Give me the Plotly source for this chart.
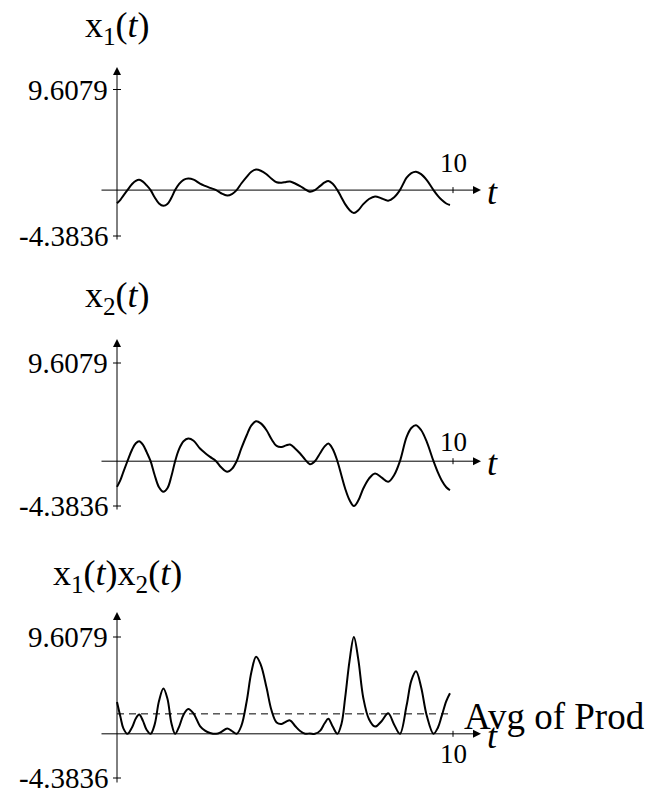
import plotly.graph_objects as go

# ---------------- data ----------------
t = [0.00, 0.10, 0.19, 0.31, 0.45, 0.56, 0.66, 0.77, 0.88, 1.00,
     1.12, 1.25, 1.38, 1.50, 1.62, 1.73, 1.85, 1.98, 2.12, 2.28,
     2.47, 2.62, 2.77, 2.95, 3.10, 3.28, 3.42, 3.56, 3.70, 3.86,
     4.00, 4.14, 4.28, 4.45, 4.60, 4.75, 4.90, 5.03, 5.15, 5.30,
     5.45, 5.60, 5.74, 5.89, 6.05, 6.18, 6.29, 6.42, 6.56, 6.68,
     6.79, 6.92, 7.05, 7.18, 7.33, 7.50, 7.68, 7.88, 8.07, 8.25,
     8.42, 8.62, 8.76, 8.90, 9.05, 9.22, 9.42, 9.55, 9.66, 9.80,
     9.91]

x1 = [-1.26, -0.93, -0.52, 0.00, 0.58, 0.88, 0.98, 0.81, 0.46, 0.00,
      -0.68, -1.28, -1.50, -1.33, -0.73, 0.00, 0.60, 0.98, 1.11, 1.00,
      0.62, 0.40, 0.21, 0.00, -0.30, -0.52, -0.38, 0.00, 0.63, 1.27,
      1.75, 1.96, 1.85, 1.52, 1.08, 0.75, 0.70, 0.78, 0.82, 0.63,
      0.38, 0.08, -0.15, 0.00, 0.40, 0.73, 0.87, 0.60, 0.00, -0.70,
      -1.34, -1.90, -2.1918, -1.93, -1.34, -0.85, -0.60, -0.80, -1.01, -0.68,
      0.00, 1.19, 1.63, 1.76, 1.53, 0.95, 0.00, -0.55, -0.93, -1.28,
      -1.42]

x2 = [-2.51, -1.85, -1.04, 0.00, 1.15, 1.75, 1.96, 1.62, 0.91, 0.00,
      -1.35, -2.55, -3.00, -2.65, -1.45, 0.00, 1.20, 1.95, 2.22, 2.00,
      1.24, 0.80, 0.42, 0.00, -0.60, -1.04, -0.75, 0.00, 1.25, 2.54,
      3.50, 3.91, 3.70, 3.03, 2.15, 1.50, 1.40, 1.55, 1.63, 1.25,
      0.75, 0.15, -0.29, 0.00, 0.80, 1.45, 1.73, 1.20, 0.00, -1.40,
      -2.67, -3.80, -4.3836, -3.85, -2.67, -1.70, -1.20, -1.60, -2.02, -1.35,
      0.00, 2.38, 3.25, 3.52, 3.05, 1.89, 0.00, -1.10, -1.86, -2.55,
      -2.84]

prod = [3.15, 1.71, 0.54, 0.00, 0.66, 1.53, 1.92, 1.31, 0.41, 0.00,
        0.91, 3.25, 4.50, 3.51, 1.05, 0.00, 0.72, 1.90, 2.46, 2.00,
        0.77, 0.32, 0.09, 0.00, 0.18, 0.54, 0.28, 0.00, 0.78, 3.23,
        6.13, 7.64, 6.85, 4.59, 2.31, 1.13, 0.98, 1.20, 1.33, 0.78,
        0.28, 0.01, 0.04, 0.00, 0.32, 1.05, 1.50, 0.72, 0.00, 0.98,
        3.56, 7.22, 9.6079, 7.41, 3.56, 1.45, 0.72, 1.28, 2.04, 0.91,
        0.00, 2.83, 5.28, 6.20, 4.65, 1.79, 0.00, 0.61, 1.73, 3.25,
        4.03]

avg_of_prod = 1.98
avg_span = [0, 10]

y_tick_vals = [9.6079, -4.3836]
y_tick_text = ["9.6079", "-4.3836"]
x_tick_val = 10
x_tick_text = "10"
titles = ["x<sub>1</sub>(<i>t</i>)",
          "x<sub>2</sub>(<i>t</i>)",
          "x<sub>1</sub>(<i>t</i>)x<sub>2</sub>(<i>t</i>)"]
series = [x1, x2, prod]
avg_label = "Avg of Prod"

# ---------------- layout geometry (pixels) ----------------
W, H = 654, 794
FONT = "Liberation Serif, Times New Roman, serif"
X0_PX, X10_PX = 117, 453
SX = (X10_PX - X0_PX) / 10.0
XR = [(0 - X0_PX) / SX, (W - X0_PX) / SX]

panels = [
    dict(top=89.5, bot=236, dom=(45, 255), arrow_top=67, axis_bot=241,
         ten_y=162.5, title_y=28),
    dict(top=363, bot=506, dom=(320, 525), arrow_top=339, axis_bot=511,
         ten_y=442.5, title_y=297),
    dict(top=637, bot=778, dom=(598, 794), arrow_top=612, axis_bot=784,
         ten_y=754, title_y=575),
]

def xval(px):
    return (px - X0_PX) / SX

fig = go.Figure()
shapes, annotations = [], []
layout_axes = {}

for i, p in enumerate(panels):
    n = "" if i == 0 else str(i + 1)
    xa, ya = "x" + n, "y" + n
    s = (p["bot"] - p["top"]) / (y_tick_vals[0] - y_tick_vals[1])
    ymax = y_tick_vals[0] + (p["top"] - p["dom"][0]) / s
    ymin = y_tick_vals[1] - (p["dom"][1] - p["bot"]) / s

    def yval(px, p=p, s=s):
        return y_tick_vals[0] - (px - p["top"]) / s

    layout_axes["xaxis" + n] = dict(domain=[0, 1], range=XR, visible=False,
                                    anchor=ya, fixedrange=True)
    layout_axes["yaxis" + n] = dict(domain=[1 - p["dom"][1] / H, 1 - p["dom"][0] / H],
                                    range=[ymin, ymax], visible=False,
                                    anchor=xa, fixedrange=True)

    fig.add_trace(go.Scatter(x=t, y=series[i], mode="lines",
                             line=dict(color="black", width=2, shape="spline"),
                             xaxis=xa, yaxis=ya, showlegend=False,
                             hoverinfo="skip"))

    # axes with arrows
    annotations.append(dict(x=xval(481), y=0, ax=xval(100), ay=0,
                            xref=xa, yref=ya, axref=xa, ayref=ya, text="",
                            showarrow=True, arrowhead=2, arrowsize=1.6,
                            arrowwidth=1, arrowcolor="black", standoff=0))
    annotations.append(dict(x=0, y=yval(p["arrow_top"]), ax=0, ay=yval(p["axis_bot"]),
                            xref=xa, yref=ya, axref=xa, ayref=ya, text="",
                            showarrow=True, arrowhead=2, arrowsize=1.6,
                            arrowwidth=1, arrowcolor="black", standoff=0))
    # y ticks
    for v, txt in zip(y_tick_vals, y_tick_text):
        shapes.append(dict(type="line", xref=xa, yref=ya,
                           x0=xval(X0_PX - 4), x1=xval(X0_PX + 4), y0=v, y1=v,
                           line=dict(color="black", width=1)))
        annotations.append(dict(x=xval(110), y=v, xref=xa, yref=ya, text=txt,
                                showarrow=False, xanchor="right", yanchor="middle",
                                font=dict(family=FONT, size=29, color="black")))
    # x tick at 10
    shapes.append(dict(type="line", xref=xa, yref=ya, x0=x_tick_val, x1=x_tick_val,
                       y0=-3 / s, y1=3 / s, line=dict(color="black", width=1)))
    annotations.append(dict(x=x_tick_val, y=yval(p["ten_y"]), xref=xa, yref=ya,
                            text=x_tick_text, showarrow=False, xanchor="center",
                            yanchor="middle",
                            font=dict(family=FONT, size=27, color="black")))
    # t label
    annotations.append(dict(x=xval(492), y=0, xref=xa, yref=ya, text="<i>t</i>",
                            showarrow=False, xanchor="center", yanchor="middle",
                            yshift=-2,
                            font=dict(family=FONT, size=36, color="black")))
    # title
    annotations.append(dict(x=117 / W, y=1 - p["title_y"] / H, xref="paper", yref="paper",
                            text=titles[i], showarrow=False, xanchor="center",
                            yanchor="middle",
                            font=dict(family=FONT, size=36, color="black")))

    if i == 2:
        fig.add_trace(go.Scatter(x=avg_span, y=[avg_of_prod, avg_of_prod], mode="lines",
                                 line=dict(color="black", width=1, dash="7px,5px"),
                                 xaxis=xa, yaxis=ya, showlegend=False,
                                 hoverinfo="skip"))
        annotations.append(dict(x=462 / W, y=1 - 716 / H, xref="paper", yref="paper",
                                text=avg_label, showarrow=False, xanchor="left",
                                yanchor="middle",
                                font=dict(family=FONT, size=37, color="black")))

fig.update_layout(width=W, height=H, margin=dict(l=0, r=0, t=0, b=0),
                  paper_bgcolor="white", plot_bgcolor="white",
                  shapes=shapes, annotations=annotations, **layout_axes)

fig.write_html("out.html",
               config={"displayModeBar": False, "staticPlot": True},
               post_script="document.body.style.margin='0px';"
                           "document.body.style.overflow='hidden';")
